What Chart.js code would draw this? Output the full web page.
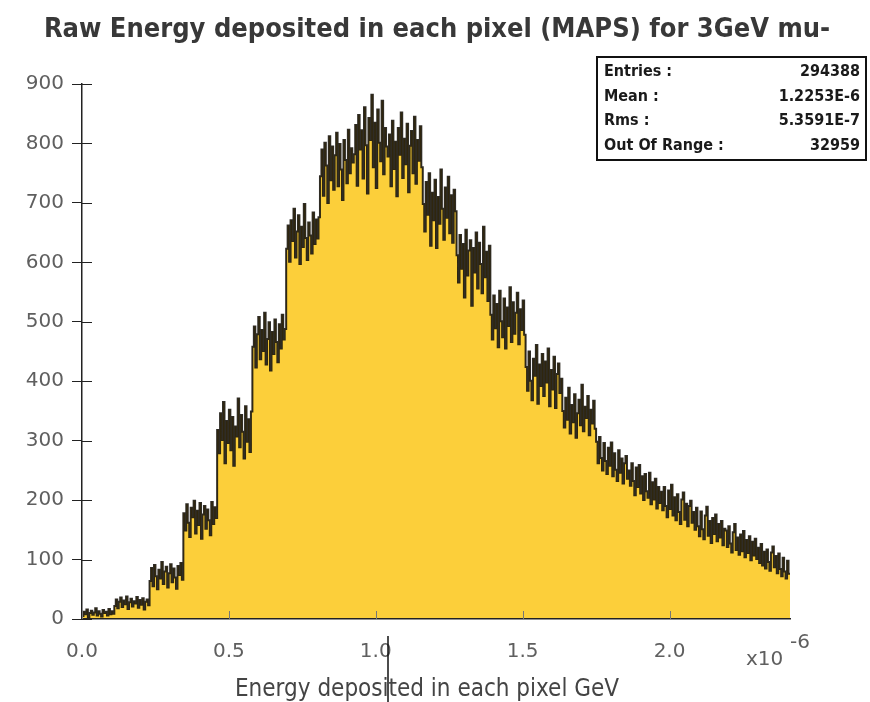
<!DOCTYPE html>
<html>
<head>
<meta charset="utf-8">
<title>Raw Energy deposited in each pixel (MAPS)</title>
<script src="https://cdn.jsdelivr.net/npm/chart.js@4/dist/chart.umd.min.js"></script>
<style>
  html, body { margin: 0; padding: 0; background: #fff; }
  #wrap { width: 870px; height: 702px; }
</style>
</head>
<body>
<div id="wrap"><canvas id="edep" width="870" height="702"></canvas></div>
<script>
// energy bins are 0.005 (x1e-6 GeV) wide; counts grouped by ADC plateau
const binWidth = 0.005;
const xMax = 2.41;

const seg000 = [5, 12, 8, 16, 3, 10, 14, 7, 11, 18, 6, 13, 9, 4, 15, 10, 12, 6, 17, 8, 13, 9];
const seg011 = [22, 33, 18, 29, 36, 20, 31, 25, 38, 17, 28, 34, 21, 30, 26, 37, 19, 32, 24, 35, 16, 29, 33, 23];
const seg023 = [64, 86, 55, 91, 72, 50, 83, 68, 96, 59, 80, 88, 53, 77, 92, 62, 85, 70, 51, 89, 74, 94, 66];
const seg035 = [178, 149, 193, 162, 138, 187, 171, 199, 144, 182, 158, 195, 135, 176, 190, 152, 184, 166, 141, 197, 160, 188, 170];
const seg046 = [318, 279, 346, 301, 365, 262, 333, 296, 352, 284, 340, 258, 324, 307, 371, 289, 343, 315, 270, 358, 298, 336, 281, 349];
const seg058 = [458, 492, 423, 479, 508, 437, 486, 451, 515, 428, 471, 499, 418, 483, 446, 504, 466, 432, 496, 455, 512, 470, 488];
const seg070 = [623, 662, 601, 671, 636, 690, 608, 652, 679, 597, 660, 626, 698, 641, 604, 667, 645, 615, 684, 631, 672, 640, 676];
const seg081 = [745, 790, 712, 801, 763, 700, 812, 738, 795, 722, 780, 818, 728, 799, 756, 705, 806, 772, 733, 823, 750, 792, 768];
const seg093 = [782, 831, 729, 848, 790, 822, 741, 861, 797, 716, 843, 806, 882, 760, 835, 725, 857, 801, 770, 872, 748, 826, 795];
const seg104 = [778, 815, 728, 838, 757, 803, 711, 826, 781, 852, 742, 808, 765, 833, 718, 796, 821, 750, 845, 732, 806, 771, 829, 760];
const seg116 = [698, 652, 735, 680, 750, 628, 717, 671, 739, 624, 710, 665, 756, 690, 638, 726, 675, 744, 649, 713, 633, 722, 686];
const seg128 = [612, 566, 646, 589, 631, 541, 655, 578, 620, 637, 527, 624, 583, 650, 556, 633, 597, 548, 660, 575, 618, 535, 628];
const seg139 = [512, 470, 544, 489, 530, 457, 552, 501, 474, 539, 455, 524, 493, 558, 466, 533, 480, 515, 549, 462, 521, 486, 536, 478];
const seg151 = [424, 384, 450, 401, 368, 438, 409, 461, 362, 428, 392, 446, 375, 433, 398, 455, 358, 419, 386, 441, 355, 412, 430, 380, 404];
const seg164 = [350, 322, 372, 335, 389, 312, 360, 331, 378, 305, 346, 369, 326, 394, 316, 357, 338, 375, 309, 352, 329, 367, 320];
// high energy tail
const tail175 = [298, 262, 306, 271, 250, 296, 266, 244, 288, 258, 297, 240, 279, 251, 232, 284, 246, 270, 228, 262, 274, 236];
const tail186 = [250, 224, 262, 232, 208, 255, 222, 259, 211, 240, 200, 244, 215, 204, 246, 193, 230, 201, 236, 186, 222, 195];
const tail197 = [214, 183, 222, 190, 171, 216, 185, 226, 174, 205, 166, 210, 180, 160, 201, 213, 167, 194, 156, 190, 199, 162];
const tail208 = [180, 150, 187, 156, 139, 181, 151, 134, 174, 189, 140, 165, 128, 170, 143, 176, 131, 160, 137, 165, 124, 152];
const tail219 = [149, 121, 156, 127, 112, 146, 160, 116, 137, 108, 142, 114, 148, 104, 133, 111, 139, 99, 130, 107, 135, 101];
const tail230 = [120, 94, 126, 90, 113, 85, 117, 96, 81, 112, 122, 87, 106, 77, 110, 84, 72, 103, 80, 68, 98, 76];

const counts = [].concat(
    seg000, seg011, seg023, seg035, seg046, seg058, seg070, seg081,
    seg093, seg104, seg116, seg128, seg139, seg151, seg164,
    tail175, tail186, tail197, tail208, tail219, tail230
);

const statLabels = ["Entries :", "Mean :", "Rms :", "Out Of Range :"];
const statValues = ["294388", "1.2253E-6", "5.3591E-7", "32959"];

const titleText = "Raw Energy deposited in each pixel (MAPS) for 3GeV mu-";
const xTitle = "Energy deposited in each pixel GeV";

// left bin edges, plus closing edge so the last bin gets its width
const points = counts.map((c, i) => ({ x: i * binWidth, y: c }));
points.push({ x: counts.length * binWidth, y: counts[counts.length - 1] });

const tickFont = { family: "DejaVu Sans", size: 20 };
const tickColor = "#5f5f5f";

const frame = {
    id: "frame",
    afterDraw(chart) {
        const { ctx, chartArea, scales } = chart;
        const x = scales.x, y = scales.y;
        ctx.save();

        // inward halves of the tick marks
        ctx.strokeStyle = "#222";
        ctx.lineWidth = 1;
        y.ticks.forEach(t => {
            const py = Math.round(y.getPixelForValue(t.value)) + 0.5;
            ctx.beginPath();
            ctx.moveTo(chartArea.left, py);
            ctx.lineTo(chartArea.left + 10, py);
            ctx.stroke();
        });
        ctx.strokeStyle = "#777";
        x.ticks.forEach(t => {
            const px = Math.round(x.getPixelForValue(t.value)) + 0.5;
            ctx.beginPath();
            ctx.moveTo(px, chartArea.bottom);
            ctx.lineTo(px, chartArea.bottom - 8);
            ctx.stroke();
        });

        // exponent of the x axis
        ctx.fillStyle = tickColor;
        ctx.font = "20px 'DejaVu Sans'";
        ctx.textBaseline = "alphabetic";
        ctx.textAlign = "left";
        ctx.fillText("x10", 746, 665);
        ctx.fillText("-6", 790, 648);

        // axis title
        ctx.fillStyle = "#444";
        ctx.font = "24px 'DejaVu Sans Condensed'";
        ctx.textAlign = "center";
        ctx.fillText(xTitle, 427, 696);

        // title
        ctx.fillStyle = "#383838";
        ctx.font = "bold 27px 'DejaVu Sans Condensed'";
        ctx.fillText(titleText, 437, 37);

        // statistics box
        ctx.strokeStyle = "#111";
        ctx.lineWidth = 2;
        ctx.strokeRect(597, 57, 269, 103);
        ctx.fillStyle = "#1a1a1a";
        ctx.font = "bold 16px 'DejaVu Sans Condensed'";
        statLabels.forEach((lab, i) => {
            const by = 76 + i * 24.5;
            ctx.textAlign = "left";
            ctx.fillText(lab, 604, by);
            ctx.textAlign = "right";
            ctx.fillText(statValues[i], 860, by);
        });

        // marker line under 1.0
        ctx.strokeStyle = "#111";
        ctx.lineWidth = 1.5;
        ctx.beginPath();
        ctx.moveTo(388, 636);
        ctx.lineTo(388, 702);
        ctx.stroke();

        ctx.restore();
    }
};

const ctx = document.getElementById("edep").getContext("2d");
const edepChart = new Chart(ctx, {
    type: "line",
    data: {
        datasets: [
            {
                label: "MAPS",
                data: points,
                stepped: true,
                fill: "origin",
                backgroundColor: "rgb(252, 207, 58)",
                borderColor: "rgba(18, 15, 8, 0.88)",
                borderWidth: 2,
                pointRadius: 0,
            },
        ],
    },
    options: {
        responsive: false,
        animation: false,
        devicePixelRatio: 1,
        layout: { padding: { top: 84, right: 80, left: 0, bottom: 0 } },
        plugins: {
            legend: { display: false },
            tooltip: { enabled: false },
            title: { display: false },
        },
        scales: {
            x: {
                type: "linear",
                min: 0,
                max: xMax,
                afterFit: s => { s.height = 83; },
                grid: { drawOnChartArea: false, drawTicks: false },
                border: { color: "#222", width: 1.5, z: 1 },
                ticks: {
                    stepSize: 0.5,
                    includeBounds: false,
                    padding: 21,
                    color: tickColor,
                    font: tickFont,
                    maxRotation: 0,
                    callback: v => v.toFixed(1),
                },
            },
            y: {
                min: 0,
                max: 900,
                afterFit: s => { s.width = 82; },
                grid: { drawOnChartArea: false, tickLength: 10, color: "#222" },
                border: { color: "#222", width: 1.5, z: 1 },
                ticks: {
                    stepSize: 100,
                    padding: 8,
                    color: tickColor,
                    font: tickFont,
                },
            },
        },
    },
    plugins: [frame],
});
</script>
</body>
</html>
